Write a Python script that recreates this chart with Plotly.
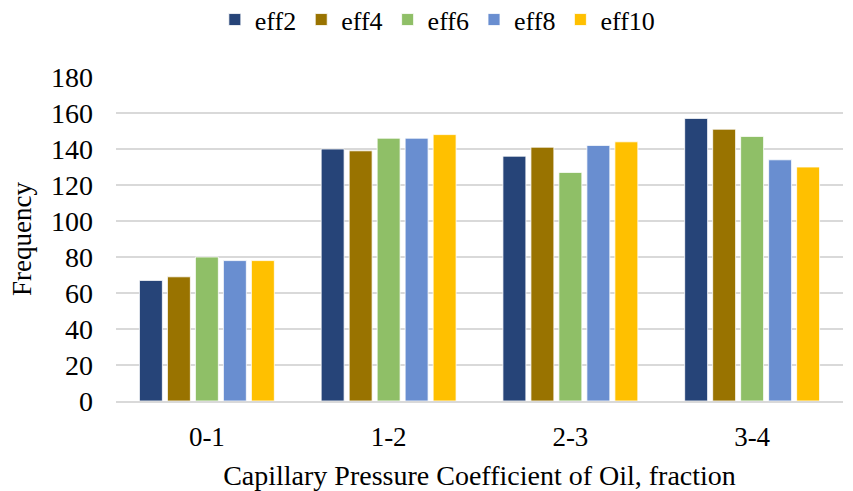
import plotly.graph_objects as go

categories = ["0-1", "1-2", "2-3", "3-4"]
series_names = ["eff2", "eff4", "eff6", "eff8", "eff10"]
eff2 = [67, 140, 136, 157]
eff4 = [69, 139, 141, 151]
eff6 = [80, 146, 127, 147]
eff8 = [78, 146, 142, 134]
eff10 = [78, 148, 144, 130]
y_ticks = [0, 20, 40, 60, 80, 100, 120, 140, 160, 180]

colors = ["#264478", "#997300", "#8FBF67", "#698ED0", "#FFC000"]
values = [eff2, eff4, eff6, eff8, eff10]

font_family = "Liberation Serif, Times New Roman, serif"

fig = go.Figure()
for name, vals, col in zip(series_names, values, colors):
    fig.add_trace(go.Bar(
        x=categories, y=vals, name=name,
        marker=dict(color=col, line=dict(color="white", width=0.8)),
    ))

fig.update_layout(
    width=853, height=491,
    barmode="group", bargap=0.23, bargroupgap=0.18,
    plot_bgcolor="white", paper_bgcolor="white",
    margin=dict(l=116, r=10, t=77, b=90),
    font=dict(family=font_family, size=28, color="#000000"),
    legend=dict(orientation="h", x=0.442, xanchor="center", xref="paper",
                y=0.96, yanchor="middle", yref="container",
                font=dict(size=26), traceorder="normal"),
    showlegend=True,
)
fig.update_xaxes(
    automargin=False,
    showgrid=False, showline=True, linecolor="#d9d9d9", linewidth=1.5,
    ticks="", tickfont=dict(size=27), ticklabelstandoff=11,
    title=dict(text="Capillary Pressure Coefficient of Oil, fraction", font=dict(size=28), standoff=16),
)
fig.update_yaxes(
    automargin=False,
    range=[0, 180], tickvals=y_ticks, showgrid=True, gridcolor="#d9d9d9", gridwidth=1.5,
    zeroline=False, showline=False, ticks="", tickfont=dict(size=28), ticklabelstandoff=22,
    title=dict(text="Frequency", font=dict(size=27), standoff=11),
)

fig.write_html("out.html")
